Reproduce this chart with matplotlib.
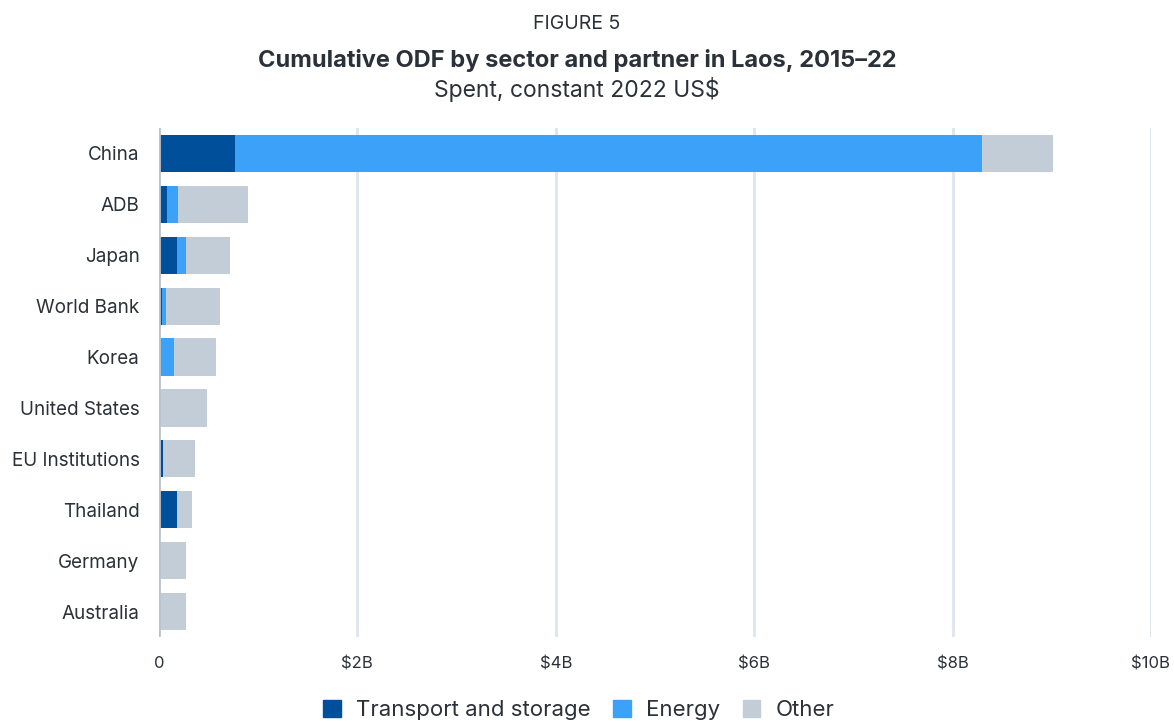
import matplotlib
matplotlib.use("Agg")
import matplotlib.pyplot as plt
from matplotlib.patches import Patch

partners = ["China", "ADB", "Japan", "World Bank", "Korea", "United States",
            "EU Institutions", "Thailand", "Germany", "Australia"]
transport = [0.765, 0.08, 0.18, 0.03, 0.0, 0.0, 0.04, 0.18, 0.0, 0.0]
energy = [7.535, 0.11, 0.09, 0.04, 0.15, 0.0, 0.0, 0.0, 0.0, 0.0]
other = [0.71, 0.71, 0.445, 0.545, 0.425, 0.48, 0.32, 0.15, 0.27, 0.27]
xticks = [0, 2, 4, 6, 8, 10]
xtick_labels = ["0", "$2B", "$4B", "$6B", "$8B", "$10B"]

c_tr = "#004f9a"
c_en = "#3ca1f9"
c_ot = "#c2cdd8"
txt = "#2b3138"

plt.rcParams['font.family'] = ['Inter', 'DejaVu Sans']

fig = plt.figure(figsize=(11.74, 7.21), dpi=100)
ax = fig.add_axes([159/1174, 1-637/721, (1151-159)/1174, (637-128)/721])

y = list(range(len(partners)))
h = 0.73
ax.barh(y, transport, height=h, color=c_tr, zorder=3)
ax.barh(y, energy, height=h, left=transport, color=c_en, zorder=3)
left2 = [a + b for a, b in zip(transport, energy)]
ax.barh(y, other, height=h, left=left2, color=c_ot, zorder=3)

ax.set_xlim(0, 10)
ax.set_ylim(len(partners) - 0.5, -0.5)
ax.set_yticks(y)
ax.set_yticklabels(partners, fontsize=13.6, color=txt)
ax.set_xticks(xticks)
ax.set_xticklabels(xtick_labels, fontsize=12, color=txt)
for t in xticks[1:]:
    ax.axvline(t, color="#dfe5ec", lw=2, zorder=1)
ax.axvline(0, color="#b9c3cd", lw=2, zorder=4)
for s in ax.spines.values():
    s.set_visible(False)
ax.tick_params(axis='both', length=0)
ax.tick_params(axis='y', pad=14)
ax.tick_params(axis='x', pad=14)

cx = 577 / 1174
fig.text(cx, 1-24/721, "FIGURE 5", ha="center", va="center", fontsize=14, color=txt)
fig.text(cx, 1-61/721, "Cumulative ODF by sector and partner in Laos, 2015\u201322",
         ha="center", va="center", fontsize=17, fontweight="bold", color=txt)
fig.text(cx, 1-90/721, "Spent, constant 2022 US$", ha="center", va="center",
         fontsize=16.5, color=txt)

handles = [Patch(color=c_tr, label="Transport and storage"),
           Patch(color=c_en, label="Energy"),
           Patch(color=c_ot, label="Other")]
leg = fig.legend(handles=handles, loc="center", bbox_to_anchor=(0.493, 1-710/721),
                 ncol=3, frameon=False, fontsize=16, handlelength=0.8, handleheight=0.8,
                 handletextpad=0.7, columnspacing=1.0)
for t in leg.get_texts():
    t.set_color(txt)

fig.savefig("out.png", dpi=100)
